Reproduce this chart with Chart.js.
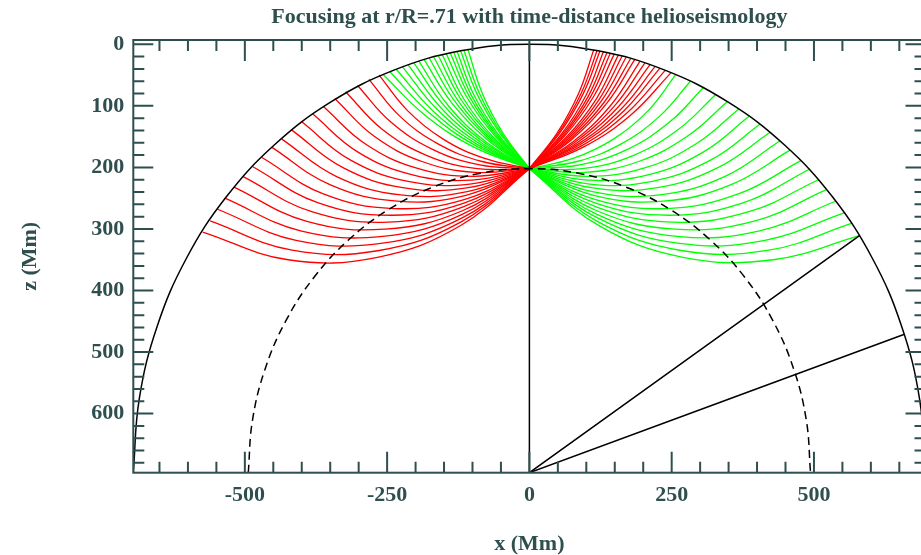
<!DOCTYPE html>
<html>
<head>
<meta charset="utf-8">
<script src="https://cdn.jsdelivr.net/npm/chart.js@4.4.0/dist/chart.umd.min.js"></script>
<style>
html, body { margin: 0; padding: 0; background: #fff; overflow: hidden; }
#wrap { width: 926px; height: 555px; }
</style>
</head>
<body>
<div id="wrap"><canvas id="rays"></canvas></div>
<script>
// ---- values (x and z in Mm, z positive downward) ----
const titleText = 'Focusing at r/R=.71 with time-distance helioseismology';
const xTickLabels = [-500, -250, 0, 250, 500];
const zTickLabels = [0, 100, 200, 300, 400, 500, 600];

// solar surface and the r/R=.71 circle
const surface = [[-696,696],[-685.4,575.1],[-654,458],[-602.8,348],[-533.2,248.6],[-447.4,162.8],[-348,93.2],[-238,42],[-120.9,10.6],[0,0],
  [120.9,10.6],[238,42],[348,93.2],[447.4,162.8],[533.2,248.6],[602.8,348],[654,458],[685.4,575.1],[696,696]];
const innerCircle = [[-494,696],[-486.5,610.2],[-464.2,527],[-427.8,449],[-378.4,378.5],[-317.5,317.6],[-247,268.2],[-169,231.8],[-85.8,209.5],[0,202],
  [85.8,209.5],[169,231.8],[247,268.2],[317.5,317.6],[378.4,378.5],[427.8,449],[464.2,527],[486.5,610.2],[494,696]];
const axisLine = [[0,0],[0,696]];
const spokes = [[[0,696],[580,311]], [[0,696],[659,471]]];

// red rays: deep part on the left, short part on the right
const redDeep = [
  [[-574,305],[-424,350],[-267,346],[-120,294],[0,202]],
  [[-561,287],[-417,334.5],[-264,335],[-120,288.5],[0,202]],
  [[-548,268],[-410,318.4],[-261,323.5],[-119,282.5],[0,202]],
  [[-535,250],[-402,303],[-258,312],[-119,276.7],[0,202]],
  [[-519,232],[-392.5,287.3],[-253.6,300.4],[-117.7,270.4],[0,202]],
  [[-503,215],[-382.5,272],[-248.8,288.9],[-116.3,264.2],[0,202]],
  [[-486,199],[-372,257.2],[-243.5,277.7],[-114.9,258],[0,202]],
  [[-470,184],[-362,243.1],[-238.4,266.8],[-113.2,252],[0,202]],
  [[-453,167],[-350.6,228],[-232.6,254.9],[-111.6,245.3],[0,202]],
  [[-435,154],[-338.8,214.9],[-226.1,244.7],[-109.3,239.5],[0,202]],
  [[-418,139],[-326.8,200.8],[-219.8,233.3],[-107.2,233],[0,202]],
  [[-400,126],[-314.9,187.8],[-213.1,222.6],[-104.7,227],[0,202]],
  [[-381,113],[-301.2,175.1],[-205.2,212.2],[-101.6,220.8],[0,202]],
  [[-362,101],[-288,162],[-197.9,201.3],[-98.9,214.5],[0,202]],
  [[-342,88],[-273.2,149.1],[-188.7,190.4],[-95.2,208],[0,202]],
  [[-323,77],[-258.8,137.9],[-179.9,180.7],[-91.5,202.1],[0,202]],
  [[-302,67],[-243.5,126.4],[-170.3,170.6],[-87.3,195.8],[0,202]],
  [[-282,57],[-228.3,116.3],[-160.6,161.7],[-83.1,190.4],[0,202]],
  [[-264,50],[-214.2,107.7],[-151.5,154],[-78.7,185.4],[0,202]]
];
const redShallow = [
  [[0,202],[48.9,143.8],[87,78.6],[113,9]],
  [[0,202],[50.8,144.5],[91,79.6],[119,10]],
  [[0,202],[52.5,145.1],[94.4,80.5],[124,11]],
  [[0,202],[55.8,146.5],[99.7,82.3],[130,12]],
  [[0,202],[57.6,147.6],[103.6,84.1],[136,14]],
  [[0,202],[59.6,148.3],[107.6,85.1],[142,15]],
  [[0,202],[61.8,148.9],[112.1,86],[149,16]],
  [[0,202],[65,150.7],[117.7,88.5],[156,18]],
  [[0,202],[67.2,151.6],[122.4,89.7],[163,19]],
  [[0,202],[69.4,152.7],[126.9,91.5],[170,21]],
  [[0,202],[71.9,153.8],[132.1,93.3],[178,23]],
  [[0,202],[74,154.9],[136.5,95],[185,25]],
  [[0,202],[77.8,157.4],[143.4,98.6],[194,28]],
  [[0,202],[80.6,158.6],[149.2,100.5],[203,30]],
  [[0,202],[83.3,160.2],[154.8,103],[212,33]],
  [[0,202],[86.1,161.7],[160.8,105.6],[221,36]],
  [[0,202],[88.5,163.3],[165.8,108.2],[229,39]],
  [[0,202],[91.5,165],[172.3,110.9],[239,42]],
  [[0,202],[94.6,167],[178.8,114.3],[249,46]]
];

// green rays: short part on the left, deep part on the right
const greenShallow = [
  [[0,202],[-97.6,167],[-184.5,114.3],[-257,49]],
  [[0,202],[-93.8,165],[-176.6,110.9],[-245,44.5]],
  [[0,202],[-90.4,163.3],[-169.4,108.2],[-234,40.5]],
  [[0,202],[-86.9,161.7],[-162.2,105.6],[-223,36.7]],
  [[0,202],[-83.7,160.2],[-155.6,103],[-213,33.4]],
  [[0,202],[-80.6,158.6],[-149.2,100.5],[-203,30.3]],
  [[0,202],[-77.8,157.4],[-143.4,98.6],[-194,27.6]],
  [[0,202],[-74,154.9],[-136.5,95],[-185,25]],
  [[0,202],[-71.1,153.8],[-130.6,93.3],[-176,22.6]],
  [[0,202],[-68.6,152.7],[-125.4,91.5],[-168,20.6]],
  [[0,202],[-66,151.6],[-120.2,89.7],[-160,18.6]],
  [[0,202],[-63.8,150.7],[-115.5,88.5],[-153,17]],
  [[0,202],[-60.6,148.9],[-109.9,86],[-146,15.5]],
  [[0,202],[-58.3,148.3],[-105.3,85.1],[-139,14]],
  [[0,202],[-56.3,147.6],[-101.3,84.1],[-133,12.8]],
  [[0,202],[-54.5,146.5],[-97.4,82.3],[-127,11.7]],
  [[0,202],[-51.2,145.1],[-92.1,80.5],[-121,10.6]],
  [[0,202],[-49.1,144.5],[-87.9,79.6],[-115,9.6]],
  [[0,202],[-46.7,143.8],[-83.2,78.6],[-108,8.4]]
];
const greenDeep = [
  [[0,202],[76.7,185.4],[147.7,154],[208.8,107.7],[257.5,49]],
  [[0,202],[83.5,190.4],[161.4,161.7],[229.4,116.3],[283,60]],
  [[0,202],[88.3,195.8],[172.2,170.6],[246.2,126.4],[305,71]],
  [[0,202],[92.7,202.1],[182.2,180.7],[262.2,137.9],[327,82]],
  [[0,202],[96.9,208],[192.1,190.4],[278.1,149.1],[348,93]],
  [[0,202],[100.4,214.5],[200.9,201.3],[292.3,162],[368,105]],
  [[0,202],[103,220.8],[208.1,212.2],[305.4,175.1],[386,117]],
  [[0,202],[106.1,227],[215.9,222.6],[319,187.8],[405,130]],
  [[0,202],[108.4,233],[222.2,233.3],[330.4,200.8],[423,143]],
  [[0,202],[110.6,239.5],[228.8,244.7],[342.9,214.9],[440,157]],
  [[0,202],[112.8,245.3],[235.2,254.9],[354.5,228],[458,172]],
  [[0,202],[114.8,252],[241.7,266.8],[367.1,243.1],[477,189]],
  [[0,202],[116.3,258],[246.4,277.7],[376.5,257.2],[492,203]],
  [[0,202],[117.3,264.2],[251,288.9],[385.9,272],[508,220]],
  [[0,202],[118.4,270.4],[255.1,300.4],[394.9,287.3],[522,236]],
  [[0,202],[119.7,276.7],[259.6,312.1],[404.6,303],[538,255]],
  [[0,202],[120.5,282.5],[263.9,323.5],[414,318.4],[553,274]],
  [[0,202],[120.9,288.5],[266.7,335],[420.9,334.5],[566,291]],
  [[0,202],[121.4,294.2],[269.8,346.1],[428.6,350],[580,311]]
];

const axisColor = '#2f4f4f';
const serif = "'Liberation Serif', 'Times New Roman', serif";

// build the datasets (first ones end up on top)
const sets = [];
function addLine(points, color, width, dash) {
  sets.push({
    data: points.map(p => ({ x: p[0], y: p[1] })),
    showLine: true,
    borderColor: color,
    borderWidth: width,
    borderDash: dash || [],
    pointRadius: 0,
    tension: 0.4,
    fill: false
  });
}
addLine(surface, '#000', 1.5);
addLine(innerCircle, '#000', 1.5, [8, 5]);
addLine(axisLine, '#000', 1.5);
spokes.forEach(s => addLine(s, '#000', 1.5));
redDeep.forEach(r => addLine(r, '#ff0000', 1.3));
redShallow.forEach(r => addLine(r, '#ff0000', 1.3));
greenDeep.forEach(r => addLine(r, '#00ff00', 1.3));
greenShallow.forEach(r => addLine(r, '#00ff00', 1.3));

// box, inward ticks on all four sides and the title
const frame = {
  id: 'frame',
  afterDraw(chart) {
    const { ctx, chartArea: a, scales: { x, y } } = chart;
    ctx.save();
    ctx.strokeStyle = axisColor;
    ctx.lineWidth = 2;
    ctx.strokeRect(a.left, a.top, a.right - a.left, a.bottom - a.top);
    ctx.beginPath();
    for (let v = -650; v <= 650; v += 50) {
      const px = x.getPixelForValue(v);
      const len = v % 250 === 0 ? 21 : 11;
      ctx.moveTo(px, a.bottom); ctx.lineTo(px, a.bottom - len);
      ctx.moveTo(px, a.top); ctx.lineTo(px, a.top + len);
    }
    for (let v = 0; v <= 680; v += 20) {
      const py = y.getPixelForValue(v);
      const len = v % 100 === 0 ? 20 : 11;
      ctx.moveTo(a.left, py); ctx.lineTo(a.left + len, py);
      ctx.moveTo(a.right, py); ctx.lineTo(a.right - len, py);
    }
    ctx.stroke();
    ctx.fillStyle = axisColor;
    ctx.font = 'bold 22px ' + serif;
    ctx.textAlign = 'center';
    ctx.textBaseline = 'middle';
    ctx.fillText(titleText, (a.left + a.right) / 2, 17);
    ctx.restore();
  }
};

const tickFont = { family: serif, size: 22, weight: 'bold', lineHeight: 1 };

new Chart(document.getElementById('rays'), {
  type: 'scatter',
  data: { datasets: sets },
  options: {
    responsive: true,
    maintainAspectRatio: false,
    animation: false,
    events: [],
    layout: { padding: { top: 40, right: 0.5, left: 0, bottom: 0 } },
    plugins: { legend: { display: false }, tooltip: { enabled: false } },
    scales: {
      x: {
        type: 'linear', position: 'bottom', min: -696, max: 696,
        grid: { display: false, drawTicks: false },
        border: { display: false },
        ticks: { color: axisColor, font: tickFont, padding: 12, maxRotation: 0, autoSkip: false,
                 callback: v => String(v) },
        title: { display: true, text: 'x (Mm)', color: axisColor, font: tickFont, padding: 0 },
        afterBuildTicks: s => { s.ticks = xTickLabels.map(v => ({ value: v })); },
        afterFit: s => { s.height = 82.3; }
      },
      y: {
        type: 'linear', position: 'left', reverse: true, min: -7, max: 696,
        grid: { display: false, drawTicks: false },
        border: { display: false },
        ticks: { color: axisColor, font: tickFont, padding: 9, autoSkip: false,
                 callback: v => String(v) },
        title: { display: true, text: 'z (Mm)', color: axisColor, font: tickFont, padding: { top: 19, bottom: 0 } },
        afterBuildTicks: s => { s.ticks = zTickLabels.map(v => ({ value: v })); },
        afterFit: s => { s.width = 133.3; }
      }
    }
  },
  plugins: [frame]
});
</script>
</body>
</html>
